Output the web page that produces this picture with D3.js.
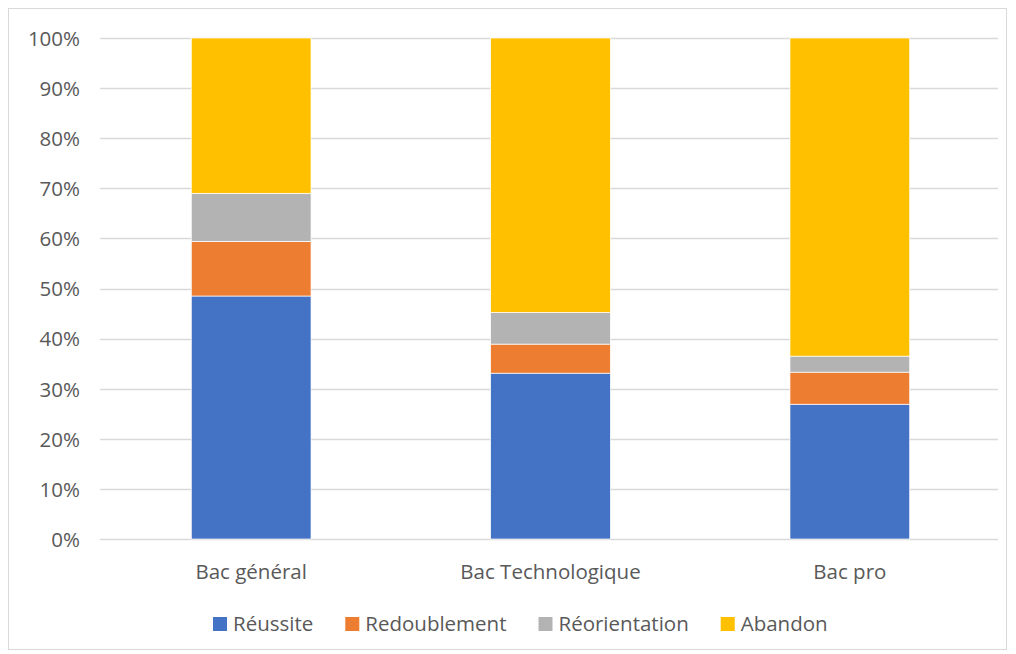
<!DOCTYPE html>
<html><head><meta charset="utf-8">
<script src="https://cdn.jsdelivr.net/npm/d3@7"></script>
<style>
body{margin:0;background:#fff;}
text{font-family:"Open Sans",sans-serif;fill:#595959;}
</style></head><body>
<svg id="c" width="1016" height="654"></svg>
<script>
const categories = ["Bac général", "Bac Technologique", "Bac pro"];
const seriesNames = ["Réussite", "Redoublement", "Réorientation", "Abandon"];
const reussite = [48.5, 33.1, 26.9];
const redoublement = [10.9, 5.8, 6.4];
const reorientation = [9.6, 6.3, 3.2];
const abandon = [31.0, 54.8, 63.5];
const colors = ["#4472C4", "#ED7D31", "#B3B3B3", "#FFC000"];
const yTicks = [0,10,20,30,40,50,60,70,80,90,100];
const FONT = "'Open Sans',sans-serif";
const FS = "20.5px";

const svg = d3.select("#c");
svg.append("rect").attr("x",8.5).attr("y",8.5).attr("width",998).attr("height",641)
  .attr("fill","#fff").attr("stroke","#d9d9d9").attr("stroke-width",1);

const pL=100, pR=998, pT=38, pB=539;
const x = d3.scaleBand().domain(categories).range([pL,pR]).paddingInner(0.6).paddingOuter(0.3);
const y = d3.scaleLinear().domain([0,100]).range([pB,pT]);

// grid
svg.append("g").selectAll("line").data(yTicks).join("line")
  .attr("x1",pL).attr("x2",pR)
  .attr("y1",d=>Math.round(y(d))+0.5).attr("y2",d=>Math.round(y(d))+0.5)
  .attr("stroke","#d9d9d9").attr("stroke-width",1.3);

// y axis labels
const yAxis = d3.axisLeft(y).tickValues(yTicks).tickFormat(d=>d+"%").tickSize(0).tickPadding(0);
const ga = svg.append("g").attr("transform",`translate(80,0)`).call(yAxis);
ga.select(".domain").remove();
ga.attr("font-size",null).attr("font-family",null);
ga.selectAll("text").attr("dy","0.36em").style("font-size",FS).style("fill","#595959").style("font-family",FONT);

// stacked data
const rows = categories.map((c,i)=>({cat:c,"Réussite":reussite[i],"Redoublement":redoublement[i],"Réorientation":reorientation[i],"Abandon":abandon[i]}));
const stack = d3.stack().keys(seriesNames)(rows);
svg.append("g").selectAll("g").data(stack).join("g").attr("fill",(d,i)=>colors[i])
  .selectAll("rect").data(d=>d).join("rect")
  .attr("x",d=>x(d.data.cat)+1.5).attr("width",x.bandwidth())
  .attr("y",d=>y(d[1])).attr("height",d=>y(d[0])-y(d[1]))
  .attr("stroke","#fff").attr("stroke-width",0.7);

// x axis labels
const xAxis = d3.axisBottom(x).tickSize(0).tickPadding(0);
const gx = svg.append("g").attr("transform",`translate(1.5,579)`).call(xAxis);
gx.select(".domain").remove();
gx.attr("font-size",null).attr("font-family",null);
gx.selectAll("text").attr("y",0).attr("dy",0).style("font-size",FS).style("fill","#595959").style("font-family",FONT);

// legend
const lg = svg.append("g");
let lx = 213;
seriesNames.forEach((s,i)=>{
  lg.append("rect").attr("x",lx).attr("y",617).attr("width",14).attr("height",14).attr("fill",colors[i]);
  const t = lg.append("text").attr("x",lx+20).attr("y",631).style("font-size",FS).text(s);
  const w = t.node().getComputedTextLength();
  lx = lx + 20 + w + 32;
});
</script></body></html>
